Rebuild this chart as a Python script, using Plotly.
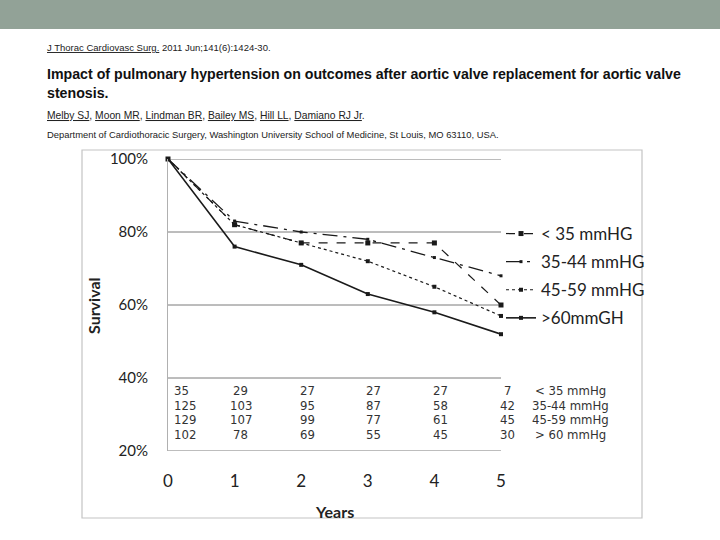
import plotly.graph_objects as go

years = [0, 1, 2, 3, 4, 5]
series_names = ["< 35 mmHG", "35-44 mmHG", "45-59 mmHG", ">60mmGH"]
surv_lt35 = [100, 82, 77, 77, 77, 60]
surv_35_44 = [100, 83, 80, 78, 73, 68]
surv_45_59 = [100, 82, 77, 72, 65, 57]
surv_gt60 = [100, 76, 71, 63, 58, 52]

risk_labels = ["< 35 mmHg", "35-44 mmHg", "45-59 mmHg", "> 60 mmHg"]
risk_lt35 = [35, 29, 27, 27, 27, 7]
risk_35_44 = [125, 103, 95, 87, 58, 42]
risk_45_59 = [129, 107, 99, 77, 61, 45]
risk_gt60 = [102, 78, 69, 55, 45, 30]

y_ticks = [20, 40, 60, 80, 100]
y_tick_labels = ["20%", "40%", "60%", "80%", "100%"]

header_journal = "J Thorac Cardiovasc Surg."
header_citation = " 2011 Jun;141(6):1424-30."
title_line1 = "Impact of pulmonary hypertension on outcomes after aortic valve replacement for aortic valve"
title_line2 = "stenosis."
authors = ["Melby SJ", "Moon MR", "Lindman BR", "Bailey MS", "Hill LL", "Damiano RJ Jr"]
affiliation = "Department of Cardiothoracic Surgery, Washington University School of Medicine, St Louis, MO 63110, USA."

# plot-area pixel geometry
L, R, T, B = 168, 501, 159, 451
W, H = R - L, B - T


def px(x):
    return (x - L) / W


def py(y):
    return (B - y) / H


fig = go.Figure()

styles = [
    dict(dash="dash", width=1.2, msize=5),
    dict(dash="longdashdot", width=1.3, msize=3),
    dict(dash="dot", width=1.2, msize=4),
    dict(dash="solid", width=1.6, msize=4),
]
for k, (name, vals, st) in enumerate(zip(series_names, [surv_lt35, surv_35_44, surv_45_59, surv_gt60], styles)):
    fig.add_trace(go.Scatter(
        x=years, y=vals, name=name, mode="lines+markers", legendgroup="g%d" % k,
        line=dict(color="#1a1a1a", width=st["width"], dash=st["dash"]),
        marker=dict(symbol="square", size=st["msize"], color="#1a1a1a"),
        cliponaxis=False,
    ))

annotations = []
# header
annotations.append(dict(x=px(45), y=py(47), xref="paper", yref="paper", xanchor="left", yanchor="middle",
                        text="<u>" + header_journal + "</u>" + header_citation, showarrow=False,
                        font=dict(family="Liberation Sans", size=9.5, color="#222")))
annotations.append(dict(x=px(45), y=py(74), xref="paper", yref="paper", xanchor="left", yanchor="middle",
                        text="<b>" + title_line1 + "</b>", showarrow=False,
                        font=dict(family="Liberation Sans", size=14.2, color="#111")))
annotations.append(dict(x=px(45), y=py(93), xref="paper", yref="paper", xanchor="left", yanchor="middle",
                        text="<b>" + title_line2 + "</b>", showarrow=False,
                        font=dict(family="Liberation Sans", size=14.2, color="#111")))
annotations.append(dict(x=px(45), y=py(115), xref="paper", yref="paper", xanchor="left", yanchor="middle",
                        text=", ".join("<u>" + a + "</u>" for a in authors) + ".", showarrow=False,
                        font=dict(family="Liberation Sans", size=10.3, color="#222")))
annotations.append(dict(x=px(45), y=py(135), xref="paper", yref="paper", xanchor="left", yanchor="middle",
                        text=affiliation, showarrow=False,
                        font=dict(family="Liberation Sans", size=9.4, color="#222")))

# axis titles
annotations.append(dict(x=px(93), y=py(306), xref="paper", yref="paper", xanchor="center", yanchor="middle",
                        text="<b>Survival</b>", textangle=-90, showarrow=False,
                        font=dict(family="Lato", size=16, color="#222")))
annotations.append(dict(x=px(334), y=py(511), xref="paper", yref="paper", xanchor="center", yanchor="middle",
                        text="<b>Years</b>", showarrow=False,
                        font=dict(family="Lato", size=16, color="#222")))

# number-at-risk table
table_font = dict(family="Liberation Sans Narrow, DejaVu Sans Condensed, sans-serif", size=13, color="#333")
row_py = [390, 405, 419, 434]
for rvals, rlabel, rp in zip([risk_lt35, risk_35_44, risk_45_59, risk_gt60], risk_labels, row_py):
    for i, (yr, v) in enumerate(zip(years, rvals)):
        if i == 0:
            annotations.append(dict(x=yr, y=py(rp), xref="x", yref="paper", xanchor="left", yanchor="middle",
                                    xshift=4, text=str(v), showarrow=False, font=table_font))
        else:
            annotations.append(dict(x=yr, y=py(rp), xref="x", yref="paper", xanchor="center", yanchor="middle",
                                    xshift=6, text=str(v), showarrow=False, font=table_font))
    annotations.append(dict(x=px(570), y=py(rp), xref="paper", yref="paper", xanchor="center", yanchor="middle",
                            text=rlabel, showarrow=False, font=table_font))

shapes = [
    # top banner
    dict(type="rect", xref="paper", yref="paper", x0=px(0), x1=px(720), y0=py(0), y1=py(29),
         fillcolor="#92a297", line=dict(width=0), layer="below"),
    # chart frame
    dict(type="rect", xref="paper", yref="paper", x0=px(82), x1=px(642), y0=py(150), y1=py(518),
         fillcolor="rgba(0,0,0,0)", line=dict(color="#c4c4c4", width=1.2), layer="below"),
]
# horizontal gridlines at each y tick
for yt in y_ticks:
    shapes.append(dict(type="line", xref="paper", yref="y", x0=0, x1=1, y0=yt, y1=yt,
                       line=dict(color="#7a7a7a", width=1), layer="below"))

fig.update_layout(
    width=720, height=540,
    margin=dict(l=L, r=720 - R, t=T, b=540 - B, pad=0),
    paper_bgcolor="white", plot_bgcolor="white",
    showlegend=True,
    legend=dict(x=px(501), y=py(216), xanchor="left", yanchor="top",
                font=dict(family="Lato", size=17, color="#222"),
                itemwidth=30, tracegroupgap=3, bgcolor="rgba(0,0,0,0)"),
    annotations=annotations,
    shapes=shapes,
    xaxis=dict(range=[0, 5], tickvals=years, ticktext=[str(y) for y in years],
               showgrid=False, zeroline=False, showline=False, ticks="",
               ticklabelstandoff=18,
               tickfont=dict(family="Lato", size=17, color="#222")),
    yaxis=dict(range=[20, 100], tickvals=y_ticks, ticktext=y_tick_labels,
               showgrid=False, zeroline=False,
               showline=True, linecolor="#b0b0b0", linewidth=1, ticks="",
               ticklabelstandoff=16,
               tickfont=dict(family="Lato", size=15, color="#222")),
)

fig.write_html("out.html", config={"displayModeBar": False},
               post_script="document.body.style.margin='0';")
